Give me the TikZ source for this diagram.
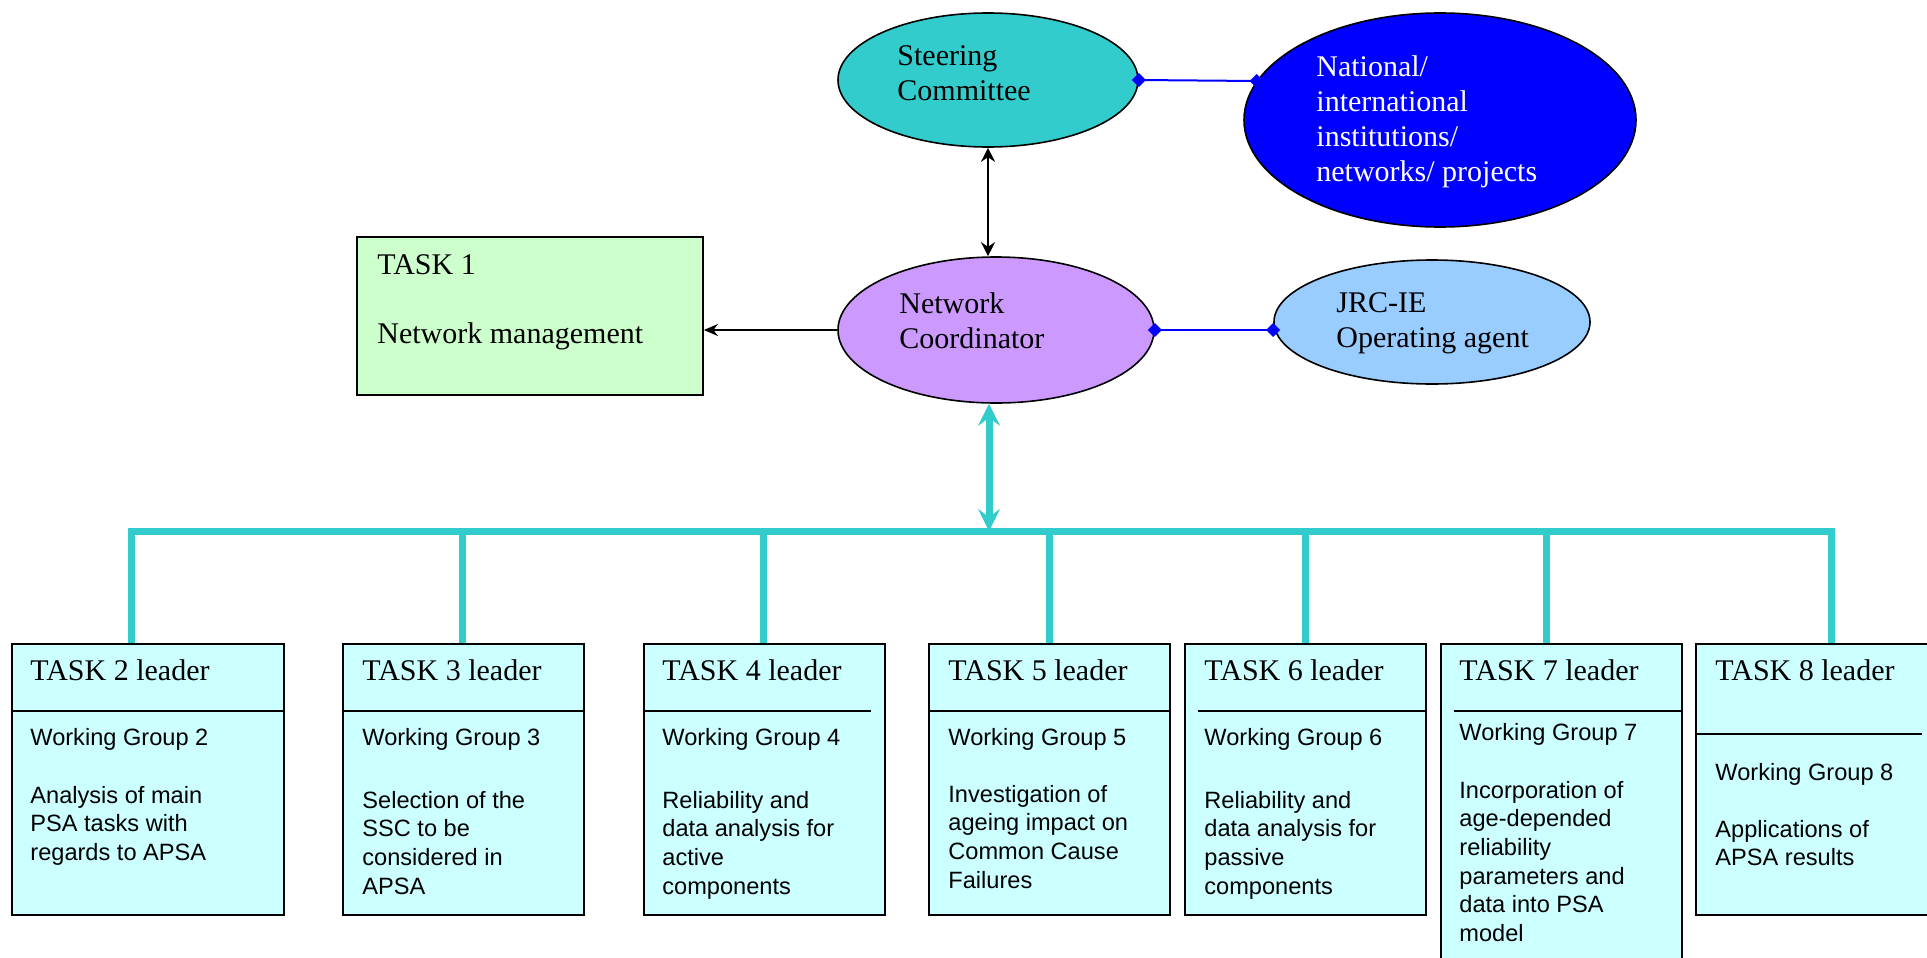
\documentclass[tikz,border=0pt]{standalone}
\usepackage{fontspec}
\setmainfont{Liberation Serif}
\setsansfont{Liberation Sans}
\usetikzlibrary{arrows.meta,shapes.geometric}
\definecolor{tealc}{HTML}{33CCCC}
\definecolor{purpc}{HTML}{CC99FF}
\definecolor{lbluec}{HTML}{99CCFF}
\definecolor{lgreenc}{HTML}{CCFFCC}
\definecolor{lcyanc}{HTML}{CCFFFF}
\definecolor{dbluec}{HTML}{0000FF}
\newcommand{\mlines}[1]{\begin{tabular}[t]{@{}l@{}}#1\end{tabular}}
\begin{document}
\begin{tikzpicture}[x=0.5pt,y=-0.5pt,
 ell/.style={ellipse,draw=black,line width=0.8pt,inner sep=0pt},
 taskbox/.style={rectangle,draw=black,line width=0.9pt,fill=lcyanc,inner sep=0pt,anchor=north west,minimum width=120.5pt,minimum height=135.5pt},
 ser/.style={anchor=base west,inner sep=0pt,font=\fontsize{15}{17.5}\selectfont},
 san/.style={anchor=base west,inner sep=0pt,font=\fontsize{11.8}{14.35}\selectfont\sffamily},
 cy/.style={draw=tealc,line width=3.5pt,line join=miter},
 divline/.style={draw=black,line width=0.9pt},
 blk/.style={draw=black,line width=0.9pt},
 bl/.style={draw=dbluec,line width=1pt,{Diamond[length=7pt,width=7pt]}-{Diamond[length=7pt,width=7pt]},shorten <=-3.5pt,shorten >=-3.5pt},
]
\useasboundingbox (0,0) rectangle (1927,958);

% ellipses
\node[ell,fill=tealc,minimum width=150pt,minimum height=67pt] (sc) at (988,80) {};
\node[ell,fill=dbluec,minimum width=196pt,minimum height=107pt] (nat) at (1440,120) {};
\node[ell,fill=purpc,minimum width=158pt,minimum height=73pt] (nc) at (996,330) {};
\node[ell,fill=lbluec,minimum width=158pt,minimum height=62pt] (jrc) at (1432,322) {};
\node[rectangle,draw=black,line width=0.9pt,fill=lgreenc,minimum width=173pt,minimum height=79pt,inner sep=0pt] (t1) at (530,316) {};

\node[ser] (sct) at (897,65) {\mlines{Steering\\Committee}};
\node[ser,text=white] (natt) at (1316,76) {\mlines{National/\\international\\institutions/\\networks/ projects}};
\node[ser] (nct) at (899,313) {\mlines{Network\\Coordinator}};
\node[ser] (jrct) at (1336,312) {\mlines{JRC-IE\\Operating agent}};
\node[ser] (t1a) at (377,274) {TASK 1};
\node[ser] (t1b) at (377,343) {Network management};

% connectors top
\draw[blk,{Stealth[length=7pt,width=7pt]}-{Stealth[length=7pt,width=7pt]}] (sc.south) -- (sc.south |- nc.north);
\draw[blk,-{Stealth[length=7pt,width=6pt]}] (nc.west) -- (nc.west -| t1.east);
\draw[bl] (sc.east) -- (nat.168);
\draw[bl] (nc.east) -- (nc.east -| jrc.west);

% task boxes
\node[taskbox,minimum width=136pt] (b2) at (11,643) {};
\node[taskbox] (b3) at (342,643) {};
\node[taskbox] (b4) at (643,643) {};
\node[taskbox] (b5) at (928,643) {};
\node[taskbox] (b6) at (1184,643) {};
\node[taskbox,minimum height=170pt] (b7) at (1440,643) {};
\node[taskbox,minimum width=130pt] (b8) at (1695,643) {};

\draw[divline] ([yshift=-34pt]b2.north west) -- ([yshift=-34pt]b2.north east);
\draw[divline] ([yshift=-34pt]b3.north west) -- ([yshift=-34pt]b3.north east);
\draw[divline] ([yshift=-34pt]b4.north west) -- ([xshift=-7.5pt,yshift=-34pt]b4.north east);
\draw[divline] ([yshift=-34pt]b5.north west) -- ([yshift=-34pt]b5.north east);
\draw[divline] ([xshift=7pt,yshift=-34pt]b6.north west) -- ([yshift=-34pt]b6.north east);
\draw[divline] ([xshift=7pt,yshift=-34pt]b7.north west) -- ([yshift=-34pt]b7.north east);
\draw[divline] ([yshift=-45.5pt]b8.north west) -- ([xshift=113.5pt,yshift=-45.5pt]b8.north west);

% cyan tree
\coordinate (barL) at (131,531);
\coordinate (barR) at (1831,531);
\coordinate (barC) at (989,531);
\draw[cy] (barL |- b2.north) -- (barL) -- (barR) -- (barR |- b8.north);
\foreach \x/\b in {462/b3,763/b4,1049/b5,1305/b6,1546/b7}
  \draw[cy] (\x,531) -- (\x,531 |- \b.north);
\draw[cy,{Stealth[length=11pt,width=11pt,inset=4pt,line width=0.3pt]}-{Stealth[length=11pt,width=11pt,inset=4pt,line width=0.3pt]}] (barC |- nc.south) -- (barC);

% box texts
\node[ser] (b2a) at (30,680) {TASK 2 leader};
\node[san] (b2b) at (30,745) {Working Group 2};
\node[san] (b2c) at (30,803) {\mlines{Analysis of main\\PSA tasks with\\regards to APSA}};

\node[ser] (b3a) at (362,680) {TASK 3 leader};
\node[san] (b3b) at (362,745) {Working Group 3};
\node[san] (b3c) at (362,808) {\mlines{Selection of the\\SSC to be\\considered in\\APSA}};

\node[ser] (b4a) at (662,680) {TASK 4 leader};
\node[san] (b4b) at (662,745) {Working Group 4};
\node[san] (b4c) at (662,808) {\mlines{Reliability and\\data analysis for\\active\\components}};

\node[ser] (b5a) at (948,680) {TASK 5 leader};
\node[san] (b5b) at (948,745) {Working Group 5};
\node[san] (b5c) at (948,802) {\mlines{Investigation of\\ageing impact on\\Common Cause\\Failures}};

\node[ser] (b6a) at (1204,680) {TASK 6 leader};
\node[san] (b6b) at (1204,745) {Working Group 6};
\node[san] (b6c) at (1204,808) {\mlines{Reliability and\\data analysis for\\passive\\components}};

\node[ser] (b7a) at (1459,680) {TASK 7 leader};
\node[san] (b7b) at (1459,740) {Working Group 7};
\node[san] (b7c) at (1459,798) {\mlines{Incorporation of\\age-depended\\reliability\\parameters and\\data into PSA\\model}};

\node[ser] (b8a) at (1715,680) {TASK 8 leader};
\node[san] (b8b) at (1715,780) {Working Group 8};
\node[san] (b8c) at (1715,837) {\mlines{Applications of\\APSA results}};
\end{tikzpicture}
\end{document}
